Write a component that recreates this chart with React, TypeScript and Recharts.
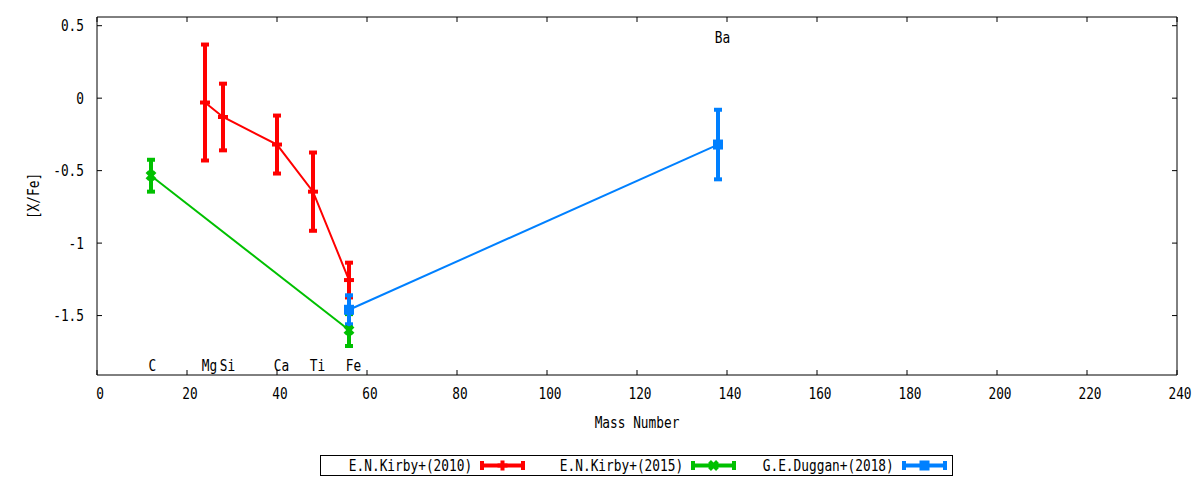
import React from 'react';
import { ComposedChart, Line, Scatter, XAxis, YAxis, ErrorBar } from 'recharts';

// [X/Fe] abundance ratios vs mass number
const kirby2010 = [
  { x: 24, y: -0.03, err: 0.40 },
  { x: 28, y: -0.13, err: 0.23 },
  { x: 40, y: -0.32, err: 0.20 },
  { x: 48, y: -0.645, err: 0.27 },
  { x: 56, y: -1.255, err: 0.12 },
];
const kirby2015 = [
  { x: 12, y: -0.535, err: 0.11 },
  { x: 56, y: -1.60, err: 0.11 },
];
const duggan2018 = [
  { x: 56, y: -1.46, err: 0.10 },
  { x: 138, y: -0.32, err: 0.24 },
];
const elementLabels = [
  { x: 12.3, y: -1.84, name: 'C' },
  { x: 25, y: -1.84, name: 'Mg' },
  { x: 29, y: -1.84, name: 'Si' },
  { x: 41, y: -1.84, name: 'Ca' },
  { x: 49, y: -1.84, name: 'Ti' },
  { x: 57, y: -1.84, name: 'Fe' },
  { x: 139, y: 0.42, name: 'Ba' },
];
const massTicks = [0, 20, 40, 60, 80, 100, 120, 140, 160, 180, 200, 220, 240];
const ratioTicks = [-1.5, -1, -0.5, 0, 0.5];

const RED = '#ff0000';
const GREEN = '#00c000';
const BLUE = '#0080ff';
const FONT = '"DejaVu Sans Mono", monospace';
const FS = 16;
const SQUEEZE = 0.8;

// gnuplot's narrow monospace look: DejaVu Sans Mono squeezed horizontally
const Txt = ({ x, y, anchor = 'middle', dy = '0', rotate = 0, children }: any) => (
  <text
    transform={`translate(${x},${y}) rotate(${rotate}) scale(${SQUEEZE},1)`}
    textAnchor={anchor}
    dy={dy}
    fontSize={FS}
    fontFamily={FONT}
    fill="#000"
  >
    {children}
  </text>
);

const BottomTick = ({ x, y, payload }: any) => (
  <Txt x={x + 3} y={y} dy="0.71em">{payload.value}</Txt>
);
const LeftTick = ({ x, y, payload }: any) => (
  <Txt x={x} y={y} anchor="end" dy="0.355em">{payload.value}</Txt>
);
const noTick = () => <g />;

const Plus = ({ cx, cy, color }: any) => (
  <g stroke={color} strokeWidth={4}>
    <line x1={cx - 5} y1={cy} x2={cx + 5} y2={cy} />
    <line x1={cx} y1={cy - 5} x2={cx} y2={cy + 5} />
  </g>
);
const Cross = ({ cx, cy, color }: any) => (
  <g stroke={color} strokeWidth={4}>
    <line x1={cx - 4} y1={cy - 4} x2={cx + 4} y2={cy + 4} />
    <line x1={cx - 4} y1={cy + 4} x2={cx + 4} y2={cy - 4} />
  </g>
);
const Square = ({ cx, cy, color }: any) => (
  <rect x={cx - 5} y={cy - 5} width={10} height={10} fill={color} />
);

const series = [
  { name: 'E.N.Kirby+(2010)', color: RED, data: kirby2010, Marker: Plus },
  { name: 'E.N.Kirby+(2015)', color: GREEN, data: kirby2015, Marker: Cross },
  { name: 'G.E.Duggan+(2018)', color: BLUE, data: duggan2018, Marker: Square },
];

export default function App() {
  return (
    <div style={{ position: 'relative', width: 1184, height: 472, fontFamily: FONT }}>
      <ComposedChart width={1184} height={437} margin={{ top: 5, right: 10, bottom: 10, left: 14 }}>
        <XAxis
          xAxisId="bottom"
          dataKey="x"
          type="number"
          domain={[0, 240]}
          ticks={massTicks}
          allowDataOverflow
          height={60}
          stroke="#000"
          tickSize={-5}
          tickMargin={18}
          tick={BottomTick}
          label={{
            content: ({ viewBox }: any) => (
              <Txt x={viewBox.x + viewBox.width / 2} y={viewBox.y + viewBox.height - 7}>Mass Number</Txt>
            ),
          }}
        />
        <XAxis
          xAxisId="top"
          orientation="top"
          dataKey="x"
          type="number"
          domain={[0, 240]}
          ticks={massTicks}
          allowDataOverflow
          height={4}
          stroke="#000"
          tickSize={-5}
          tick={noTick}
        />
        <YAxis
          yAxisId="left"
          type="number"
          domain={[-1.91, 0.56]}
          ticks={ratioTicks}
          allowDataOverflow
          width={75}
          stroke="#000"
          tickSize={-5}
          tickMargin={18}
          tick={LeftTick}
          label={{
            content: ({ viewBox }: any) => (
              <Txt x={viewBox.x + 11} y={viewBox.y + viewBox.height / 2} rotate={-90} dy="0.355em">[X/Fe]</Txt>
            ),
          }}
        />
        <YAxis
          yAxisId="right"
          orientation="right"
          type="number"
          domain={[-1.91, 0.56]}
          ticks={ratioTicks}
          allowDataOverflow
          width={5}
          stroke="#000"
          tickSize={-5}
          tick={noTick}
        />
        {series.map(({ name, color, data, Marker }) => (
          <Line
            key={name}
            name={name}
            data={data}
            dataKey="y"
            xAxisId="bottom"
            yAxisId="left"
            type="linear"
            stroke={color}
            strokeWidth={2}
            isAnimationActive={false}
            dot={(p: any) => <Marker key={`${name}-${p.index}`} cx={p.cx} cy={p.cy} color={color} />}
            activeDot={false}
          >
            <ErrorBar dataKey="err" direction="y" width={4} stroke={color} strokeWidth={4} isAnimationActive={false} />
          </Line>
        ))}
        <Scatter
          data={elementLabels}
          dataKey="y"
          xAxisId="bottom"
          yAxisId="left"
          isAnimationActive={false}
          shape={(p: any) => (
            <Txt x={p.cx} y={p.cy} dy="0.355em">{p.payload.name}</Txt>
          )}
        />
      </ComposedChart>
      <div
        style={{
          position: 'absolute',
          left: 312,
          top: 447,
          width: 633,
          height: 21,
          boxSizing: 'border-box',
          border: '1px solid #000',
          fontSize: FS,
        }}
      >
        {series.map(({ name, color, Marker }, i) => (
          <React.Fragment key={name}>
            <span
              style={{
                position: 'absolute',
                right: 632 - (152 + 211 * i),
                top: 0,
                lineHeight: '19px',
                whiteSpace: 'nowrap',
                transform: `scaleX(${SQUEEZE})`,
                transformOrigin: 'right center',
              }}
            >
              {name}
            </span>
            <svg
              width={45}
              height={19}
              style={{ position: 'absolute', left: 159 + 211 * i, top: 0 }}
            >
              <g stroke={color} strokeWidth={4}>
                <line x1={2} y1={9.5} x2={43} y2={9.5} />
                <line x1={2} y1={5} x2={2} y2={14} />
                <line x1={43} y1={5} x2={43} y2={14} />
              </g>
              <Marker cx={22.5} cy={9.5} color={color} />
            </svg>
          </React.Fragment>
        ))}
      </div>
    </div>
  );
}
